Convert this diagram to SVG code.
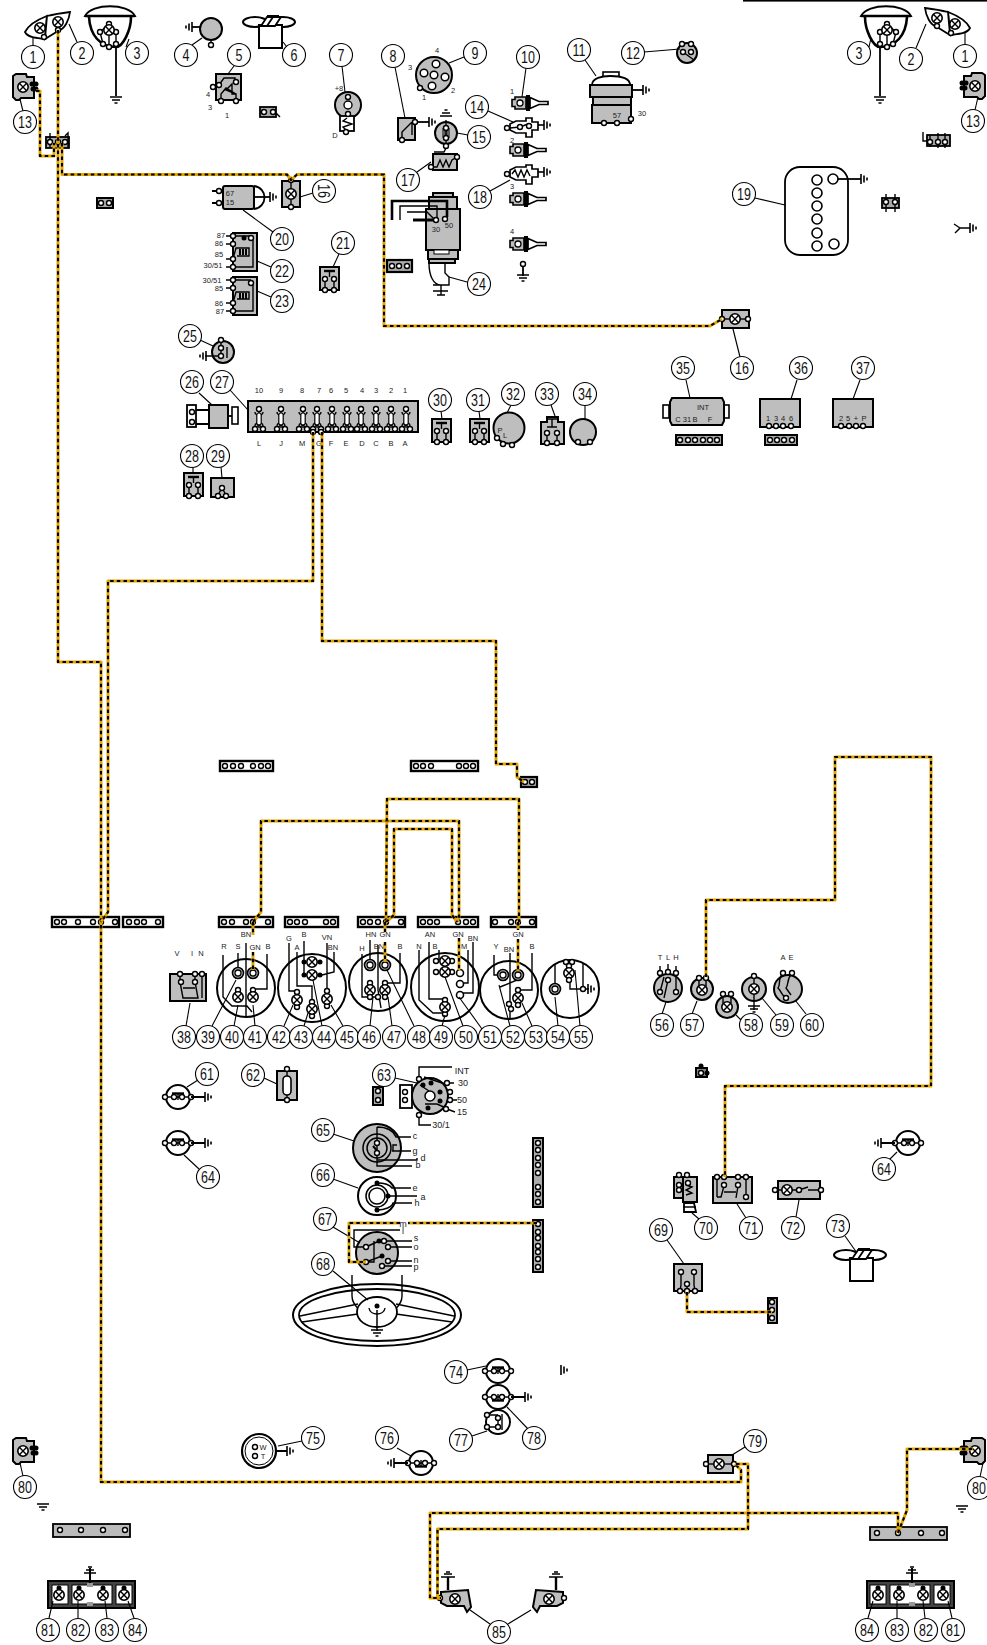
<svg xmlns="http://www.w3.org/2000/svg" width="987" height="1645" viewBox="0 0 987 1645">
<style>
text{font-family:"Liberation Sans Narrow","Liberation Sans",Arial,sans-serif}
.b{r:11.5px;fill:#fff;stroke:#000;stroke-width:1.1}
.bt{font-size:16px;text-anchor:middle;fill:#111}
.l{font-size:7.5px;text-anchor:middle;fill:#222}
.ld{fill:none;stroke:#000;stroke-width:1.1}
.g{fill:#bebebe;stroke:#000;stroke-width:2}
.w{fill:#fff;stroke:#000;stroke-width:1.6}
.n{fill:none;stroke:#000;stroke-width:1.4}
.h{fill:none;stroke:#000;stroke-width:2.6}
.k{fill:#000;stroke:none}
.t{r:2.5px;fill:#fff;stroke:#000;stroke-width:1.4}
.d{r:2.5px;fill:#000}
.bar{fill:#fff;stroke:#000;stroke-width:2.4}
.wy{fill:none;stroke:#e3a400;stroke-width:3;stroke-linejoin:round}
.wk{fill:none;stroke:#000;stroke-width:2.1;stroke-dasharray:3.5 3.2}
</style>
<defs>
<g id="L"><circle r="5.2" fill="#fff" stroke="#000" stroke-width="1.6"/><path d="M-3.4-3.4L3.4 3.4M3.4-3.4L-3.4 3.4" stroke="#000" stroke-width="1.4"/></g>
<g id="D"><circle r="5.5" fill="#bebebe" stroke="#000" stroke-width="1.6"/><circle r="3" fill="#fff" stroke="#000" stroke-width="1.3"/></g>
<path id="gR" d="M0-5V5M3-3.5V3.5M6-1.5V1.5" fill="none" stroke="#000" stroke-width="1.6"/>
<path id="gL" d="M0-5V5M-3-3.5V3.5M-6-1.5V1.5" fill="none" stroke="#000" stroke-width="1.6"/>
<path id="gD" d="M-6 0H6M-4 3H4M-1.5 6H1.5" fill="none" stroke="#000" stroke-width="1.5"/>
<path id="gU" d="M-6 0H6M-4-3H4M-1.5-6H1.5" fill="none" stroke="#000" stroke-width="1.5"/>
<g id="plug"><path d="M0-3.5H3V-6H14V6H3V3.5H0Z" fill="#bebebe" stroke="#000" stroke-width="1.6"/><circle cx="8" r="3" fill="#fff" stroke="#000" stroke-width="1.3"/><rect x="14" y="-8" width="4" height="16" fill="#000"/><path d="M18-5.5L27-1.5H36V1.5H27L18 5.5Z" fill="#fff" stroke="#000" stroke-width="1.7"/></g>
<g id="rel"><rect width="19" height="23" class="g"/><path d="M4 4H15" stroke="#000" stroke-width="2.4"/><path d="M9.5 4V10M5 11L5 22M14 11V22" class="n"/><circle class="t" cx="5" cy="12"/><circle class="t" cx="14" cy="12"/><circle class="t" cx="5" cy="23"/><circle class="t" cx="14" cy="23"/></g>
<g id="sw"><circle r="12" fill="#fff" stroke="#000" stroke-width="2"/><path d="M-6-3.5H6" stroke="#000" stroke-width="2.4"/><path d="M0-3.5V3M-13 0H13" class="n"/><circle class="t" cx="-13" cy="0"/><circle class="t" cx="13" cy="0"/><circle class="t" cx="-4" cy="0"/><circle class="t" cx="4" cy="0"/></g>
<g id="swf"><circle r="12" fill="#fff" stroke="#000" stroke-width="2"/><path d="M-6 3.5H6" stroke="#000" stroke-width="2.4"/><path d="M0 3.5V-3M-13 0H13" class="n"/><circle class="t" cx="-13" cy="0"/><circle class="t" cx="13" cy="0"/><circle class="t" cx="-4" cy="0"/><circle class="t" cx="4" cy="0"/></g>
<g id="fuse"><path d="M0-9V9" class="n"/><path d="M-4-7C-4-3-1-5-1-3M4-7C4-3 1-5 1-3M-4 7C-4 3-1 5-1 3M4 7C4 3 1 5 1 3" class="n"/><rect x="-2.2" y="-6" width="4.4" height="12" rx="2" fill="#fff" stroke="#000" stroke-width="1.2"/><path d="M-4 9L0 6L4 9" class="n"/><circle class="t" cx="0" cy="-10"/><circle class="t" cx="-4" cy="10"/><circle class="t" cx="4" cy="10"/></g>
<g id="lamps"><path d="M25 32C30 22 42 18 47 16L45 39C38 38 28 38 25 32Z" fill="#fff" stroke="#000" stroke-width="1.8"/><path d="M47 16C55 14 62 13 70 12C69 20 65 29 58 31L45 39Z" fill="#fff" stroke="#000" stroke-width="1.8"/><use href="#L" x="40" y="28"/><use href="#L" x="58" y="22"/><circle class="t" cx="44" cy="37"/><circle class="t" cx="58" cy="30"/></g>
<g id="head"><path d="M85 16C92 3 128 3 135 16Z" fill="#fff" stroke="#000" stroke-width="1.8"/><path d="M85 16H135" stroke="#000" stroke-width="2.4"/><path d="M89 17C90 35 100 47 116 47" class="h" stroke-width="2"/><path d="M131 17C131 30 123 47 116 47" class="h" stroke-width="2"/><path d="M109 24L100 32L103 44M109 24L116 32L116 44M109 30V47" class="n"/><circle class="t" cx="109" cy="24"/><circle class="t" cx="100" cy="32"/><circle class="t" cx="116" cy="32"/><circle class="t" cx="103" cy="44"/><circle class="t" cx="109" cy="47"/><circle class="t" cx="116" cy="44"/><use href="#L" x="109" y="30"/><path d="M116 46V96" stroke="#000" stroke-width="1.8"/><use href="#gD" x="116" y="97"/></g>
<g id="side"><path d="M13 76L16 74H26L27 77H34V98H21L19 100H16L13 97Z" class="g"/><use href="#L" x="23" y="87"/><circle class="d" cx="32" cy="84"/><circle class="d" cx="33" cy="89"/><circle class="d" cx="36" cy="84"/><circle class="d" cx="36" cy="89"/></g>
<g id="fan"><ellipse cx="12" cy="5" rx="12" ry="5" fill="#fff" stroke="#000" stroke-width="2"/><ellipse cx="40" cy="5" rx="12" ry="5" fill="#fff" stroke="#000" stroke-width="2"/><rect x="16" y="8" width="23" height="23" fill="#fff" stroke="#000" stroke-width="2"/><path d="M18 9L24 0H38L32 9ZM24 9L30 0" fill="#fff" stroke="#000" stroke-width="1.8"/><path d="M24-1H36" stroke="#000" stroke-width="2"/></g>
<g id="taillight"><rect x="48" y="1581" width="87" height="27" fill="#444" stroke="#000" stroke-width="2"/><rect x="52" y="1585" width="16" height="19" fill="#fff" stroke="#000" stroke-width="1"/><rect x="72" y="1585" width="40" height="19" fill="#fff" stroke="#000" stroke-width="1"/><rect x="116" y="1585" width="16" height="19" fill="#fff" stroke="#000" stroke-width="1"/><rect x="87" y="1583" width="6" height="4" fill="#999"/><rect x="87" y="1602" width="6" height="4" fill="#999"/><circle class="d" cx="59" cy="1588"/><circle class="d" cx="79" cy="1588"/><circle class="d" cx="103" cy="1588"/><circle class="d" cx="124" cy="1588"/><use href="#L" x="59" y="1595"/><use href="#L" x="79" y="1595"/><use href="#L" x="103" y="1595"/><use href="#L" x="124" y="1595"/><path d="M90 1568V1583" stroke="#000" stroke-width="2"/><path d="M84 1573H96M86 1570H94M88 1567H92" stroke="#000" stroke-width="1.5"/></g>
<g id="fog"><path d="M441 1592L468 1590L471 1607L467 1612L464 1606H447L441 1603Z" class="g"/><use href="#L" x="455" y="1599"/><circle class="t" cx="440" cy="1598"/><path d="M448 1590V1577" stroke="#000" stroke-width="2.4"/><path d="M441 1577H455M444 1574H452M446 1572H450" stroke="#000" stroke-width="1.5"/></g>
</defs>
<rect width="987" height="1645" fill="#fff"/>
<rect x="743" y="0" width="244" height="1.6" fill="#000"/>

<g id="lamps-left"><use href="#lamps"/><use href="#head"/>
<path class="ld" d="M33 45V38M77 42L69 24M126 47L129 39"/>
<circle class="b" cx="33" cy="57"/><text class="bt" transform="translate(33 63) scale(.78 1)">1</text>
<circle class="b" cx="82" cy="53"/><text class="bt" transform="translate(82 59) scale(.78 1)">2</text>
<circle class="b" cx="137" cy="53"/><text class="bt" transform="translate(137 59) scale(.78 1)">3</text></g>
<g id="lamps-right"><use href="#lamps" transform="translate(995 -4) scale(-1 1)"/><use href="#head" transform="translate(996 0) scale(-1 1)"/>
<path class="ld" d="M965 45V33M916 48L926 24M869 47L871 38"/>
<circle class="b" cx="965" cy="56"/><text class="bt" transform="translate(965 62) scale(.78 1)">1</text>
<circle class="b" cx="911" cy="59"/><text class="bt" transform="translate(911 65) scale(.78 1)">2</text>
<circle class="b" cx="859" cy="53"/><text class="bt" transform="translate(859 59) scale(.78 1)">3</text></g>
<g id="n13"><use href="#side"/><path class="ld" d="M20 99L23 111"/><circle class="b" cx="25" cy="122"/><text class="bt" transform="translate(25 128) scale(.78 1)">13</text></g>
<g id="n13r"><use href="#side" transform="translate(998 -1) scale(-1 1)"/><path class="ld" d="M978 97L975 110"/><circle class="b" cx="973" cy="121"/><text class="bt" transform="translate(973 127) scale(.78 1)">13</text></g>
<g id="n4"><circle cx="211" cy="29" r="11" class="g"/><circle class="t" cx="211" cy="45"/><path d="M211 40V43" class="n"/><path d="M200 27H192" stroke="#000" stroke-width="1.8"/><use href="#gL" x="192" y="27"/><path class="ld" d="M192 45L202 38"/><circle class="b" cx="186" cy="55"/><text class="bt" transform="translate(186 61) scale(.78 1)">4</text></g>
<g id="n5"><rect x="216" y="74" width="25" height="26" class="g"/><path d="M219 85L224 78H235V83M221 101V94L226 88L236 94L226 90L232 84V94H236V101" class="n"/><circle class="t" cx="213" cy="87"/><circle class="t" cx="219" cy="85"/><circle class="t" cx="236" cy="82"/><circle class="t" cx="221" cy="101"/><circle class="t" cx="236" cy="101"/><text class="l" x="208" y="97">4</text><text class="l" x="210" y="110">3</text><text class="l" x="227" y="118">1</text><path class="ld" d="M234 66L228 74"/><circle class="b" cx="239" cy="55"/><text class="bt" transform="translate(239 61) scale(.78 1)">5</text></g>
<g id="c1"><rect x="260" y="107" width="16" height="10" fill="#aaa" stroke="#000" stroke-width="1.8"/><circle class="t" cx="264" cy="112"/><circle class="t" cx="273" cy="112"/><path d="M276 113L280 117" class="n"/></g>
<g id="n6"><use href="#fan" x="243" y="17"/><path class="ld" d="M283 42L287 47"/><circle class="b" cx="294" cy="55"/><text class="bt" transform="translate(294 61) scale(.78 1)">6</text></g>
<g id="n7"><circle cx="348" cy="105" r="13" class="g"/><rect x="340" y="116" width="14" height="15" fill="#fff" stroke="#000" stroke-width="1.8"/><path d="M347 118L343 121L352 124L343 127L347 131" class="n"/><circle cx="348" cy="105" r="4" fill="#fff" stroke="#000" stroke-width="1.4"/><circle class="t" cx="348" cy="97"/><circle class="t" cx="348" cy="114"/><circle class="t" cx="346" cy="132"/><text class="l" x="339" y="91">+8</text><text class="l" x="335" y="138">D</text><path class="ld" d="M342 66L345 92"/><circle class="b" cx="341" cy="55"/><text class="bt" transform="translate(341 61) scale(.78 1)">7</text></g>
<g id="n8"><rect x="398" y="118" width="17" height="22" class="g"/><path d="M402 139V132L412 122M412 122V135" class="n"/><path d="M415 122H429" stroke="#000" stroke-width="1.8"/><use href="#gR" x="429" y="122"/><circle class="t" cx="415" cy="122"/><circle class="t" cx="402" cy="140"/><path class="ld" d="M395 67L405 118"/><circle class="b" cx="393" cy="56"/><text class="bt" transform="translate(393 62) scale(.78 1)">8</text></g>
<g id="n9"><circle cx="434" cy="75" r="18" class="g"/><circle cx="436" cy="64" r="3.8" fill="#fff" stroke="#000" stroke-width="1.5"/><circle cx="424" cy="73" r="3.8" fill="#fff" stroke="#000" stroke-width="1.5"/><circle cx="434" cy="75" r="3.8" fill="#fff" stroke="#000" stroke-width="1.5"/><circle cx="445" cy="77" r="3.8" fill="#fff" stroke="#000" stroke-width="1.5"/><circle cx="432" cy="86" r="3.8" fill="#fff" stroke="#000" stroke-width="1.5"/><circle class="t" cx="420" cy="88"/><text class="l" x="437" y="53">4</text><text class="l" x="410" y="70">3</text><text class="l" x="453" y="93">2</text><text class="l" x="424" y="100">1</text><path class="ld" d="M464 57L449 63"/><circle class="b" cx="475" cy="53"/><text class="bt" transform="translate(475 59) scale(.78 1)">9</text></g>
<g id="n10"><use href="#plug" x="512" y="103"/><use href="#plug" x="510" y="150"/><use href="#plug" x="510" y="199"/><use href="#plug" x="510" y="244"/><circle class="t" cx="523" cy="264"/><path d="M523 267V276" stroke="#000" stroke-width="1.8"/><use href="#gD" x="523" y="275"/><text class="l" x="512" y="94">1</text><text class="l" x="512" y="143">2</text><text class="l" x="512" y="189">3</text><text class="l" x="512" y="234">4</text><path class="ld" d="M526 68L522 97"/><circle class="b" cx="528" cy="57"/><text class="bt" transform="translate(528 63) scale(.78 1)">10</text></g>
<g id="n14"><path d="M510 124L516 121H526V118H532V122H538V130H532V137H526V133H516L510 130Z" fill="#fff" stroke="#000" stroke-width="1.7"/><path d="M510 128L520 127L528 124" class="n"/><circle class="t" cx="507" cy="128"/><circle class="t" cx="520" cy="127"/><circle class="t" cx="529" cy="126"/><path d="M538 125H544" stroke="#000" stroke-width="1.6"/><use href="#gR" x="544" y="125"/><path class="ld" d="M488 111L513 122"/><circle class="b" cx="477" cy="107"/><text class="bt" transform="translate(477 113) scale(.78 1)">14</text></g>
<g id="n18"><path d="M510 170L516 167H526V165H532V169H538V177H532V184H526V180H516L510 177Z" fill="#fff" stroke="#000" stroke-width="1.7"/><path d="M512 174L515 170L518 177L521 170L524 177L527 170L530 176" class="n"/><circle class="t" cx="507" cy="174"/><path d="M538 172H544" stroke="#000" stroke-width="1.6"/><use href="#gR" x="544" y="172"/><path class="ld" d="M490 191L510 180"/><circle class="b" cx="480" cy="197"/><text class="bt" transform="translate(480 203) scale(.78 1)">18</text></g>
<g id="n15"><circle cx="446" cy="133" r="11" class="g"/><path d="M446 120V146" class="n"/><rect x="442" y="128" width="8" height="10" class="k" opacity=".5"/><circle class="t" cx="446" cy="128"/><circle class="t" cx="446" cy="138"/><circle class="t" cx="446" cy="146"/><use href="#gU" x="446" y="116"/><path class="ld" d="M468 135L457 133"/><circle class="b" cx="479" cy="137"/><text class="bt" transform="translate(479 143) scale(.78 1)">15</text></g>
<g id="n17"><rect x="433" y="154" width="24" height="16" class="g"/><path d="M431 167L437 167L440 160L443 167L446 160L449 167L452 160L457 157M434 152H444L446 148" class="n"/><circle class="t" cx="431" cy="167"/><circle class="t" cx="457" cy="157"/><path class="ld" d="M417 172L431 162"/><circle class="b" cx="408" cy="180"/><text class="bt" transform="translate(408 186) scale(.78 1)">17</text></g>
<g id="n11"><rect x="603" y="72" width="16" height="5" fill="#fff" stroke="#000" stroke-width="1.6"/><path d="M592 85C592 78 602 76 610 76C622 76 630 78 630 85Z" fill="#fff" stroke="#000" stroke-width="1.8"/><rect x="590" y="85" width="42" height="12" class="g"/><rect x="593" y="97" width="38" height="8" class="g"/><rect x="592" y="105" width="39" height="18" class="g"/><circle class="t" cx="604" cy="123"/><circle class="t" cx="617" cy="123"/><circle class="t" cx="631" cy="119"/><path d="M632 90H643" stroke="#000" stroke-width="1.8"/><use href="#gR" x="643" y="90"/><text class="l" x="617" y="118">57</text><text class="l" x="642" y="116">30</text><path class="ld" d="M585 60L596 76"/><circle class="b" cx="579" cy="50"/><text class="bt" transform="translate(579 56) scale(.78 1)">11</text></g>
<g id="n12"><circle cx="687" cy="53" r="10" class="g"/><path d="M683 52L694 60" class="n"/><circle class="t" cx="682" cy="44"/><circle class="t" cx="691" cy="44"/><circle class="t" cx="683" cy="52"/><circle class="t" cx="691" cy="52"/><path class="ld" d="M644 52L680 49"/><circle class="b" cx="633" cy="53"/><text class="bt" transform="translate(633 59) scale(.78 1)">12</text></g>
<g id="n24"><rect x="433" y="193" width="20" height="5" class="g"/><rect x="429" y="197" width="28" height="12" class="g"/><rect x="426" y="209" width="34" height="41" class="g"/><rect x="428" y="250" width="30" height="9" class="g"/><rect x="434" y="250" width="15" height="4" fill="#fff" stroke="#000"/><rect x="429" y="259" width="26" height="4" class="g"/><path d="M392 220V201H447V217" class="h" stroke-width="3"/><path d="M400 220V206H437V218M407 212H427L435 220" class="n"/><path d="M413 220H435" stroke="#000" stroke-width="3"/><circle class="t" cx="436" cy="220"/><circle class="t" cx="445" cy="219"/><text class="l" x="436" y="232">30</text><text class="l" x="449" y="228">50</text><path d="M429 263C429 275 433 285 441 285M445 263V273L449 277V285H433M441 285V295" class="n"/><path d="M433 291H448M437 295H445" stroke="#000" stroke-width="1.5"/><path class="ld" d="M467 282L449 277"/><circle class="b" cx="479" cy="284"/><text class="bt" transform="translate(479 290) scale(.78 1)">24</text></g>
<g id="c2"><rect x="387" y="260" width="25" height="12" fill="#aaa" stroke="#000" stroke-width="2.2"/><circle class="t" cx="392" cy="266"/><circle class="t" cx="399" cy="266"/><circle class="t" cx="407" cy="266"/></g>
<g id="n16"><rect x="282" y="181" width="18" height="26" class="g"/><path d="M291 181V207" class="n"/><use href="#L" x="291" y="194"/><circle class="t" cx="291" cy="180"/><circle class="t" cx="291" cy="207"/><path class="ld" d="M313 193L300 197"/><circle class="b" cx="324" cy="191"/><text class="bt" transform="translate(318 191) rotate(90) scale(.78 1)">16</text></g>
<g id="n20"><path d="M254 186C268 188 268 207 254 209" fill="#fff" stroke="#000" stroke-width="1.8"/><rect x="223" y="186" width="31" height="23" rx="2" class="g"/><path d="M255 197H270" stroke="#000" stroke-width="1.8"/><use href="#gR" x="270" y="197"/><path d="M212 191H223M212 203H223" stroke="#000" stroke-width="1.8"/><circle class="t" cx="219" cy="191"/><circle class="t" cx="219" cy="203"/><text class="l" x="230" y="196">67</text><text class="l" x="230" y="205">15</text><path class="ld" d="M273 232L243 210"/><circle class="b" cx="282" cy="239"/><text class="bt" transform="translate(282 245) scale(.78 1)">20</text></g>
<g id="n22"><rect x="233" y="233" width="24" height="38" class="g"/><path d="M226 236H251M226 244H236M226 259H233L236 248H249V256H237M226 267H253V240" class="n" stroke-width="1.8"/><circle class="d" cx="244" cy="238"/><circle class="t" cx="233" cy="236"/><circle class="t" cx="233" cy="244"/><circle class="t" cx="233" cy="259"/><circle class="t" cx="233" cy="267"/><circle class="t" cx="251" cy="238"/><path d="M240 249V255M243 249V255M246 249V255" stroke="#000" stroke-width="2"/><text class="l" x="221" y="238">87</text><text class="l" x="219" y="246">86</text><text class="l" x="219" y="257">85</text><text class="l" x="213" y="268">30/51</text><path class="ld" d="M271 267L257 261"/><circle class="b" cx="282" cy="271"/><text class="bt" transform="translate(282 277) scale(.78 1)">22</text></g>
<g id="n23"><rect x="233" y="277" width="24" height="38" class="g"/><path d="M226 280H251M226 288H236M226 303H233L236 292H249V299H237M226 311H253V285" class="n" stroke-width="1.8"/><circle class="t" cx="233" cy="280"/><circle class="t" cx="233" cy="288"/><circle class="t" cx="233" cy="303"/><circle class="t" cx="233" cy="311"/><circle class="t" cx="251" cy="283"/><path d="M240 293V299M243 293V299M246 293V299" stroke="#000" stroke-width="2"/><text class="l" x="212" y="283">30/51</text><text class="l" x="219" y="291">85</text><text class="l" x="219" y="306">86</text><text class="l" x="220" y="314">87</text><path class="ld" d="M271 297L257 291"/><circle class="b" cx="282" cy="301"/><text class="bt" transform="translate(282 307) scale(.78 1)">23</text></g>
<g id="n21"><use href="#rel" x="320" y="267"/><path class="ld" d="M339 254L333 267"/><circle class="b" cx="343" cy="243"/><text class="bt" transform="translate(343 249) scale(.78 1)">21</text></g>
<g id="c3"><rect x="97" y="198" width="16" height="10" fill="#aaa" stroke="#000" stroke-width="2"/><circle class="t" cx="101" cy="203"/><circle class="t" cx="109" cy="203"/></g>
<g id="c4"><rect x="46" y="137" width="23" height="11" fill="#aaa" stroke="#000" stroke-width="1.8"/><path d="M50 133V148M58 134V148M65 136L68 133V148" class="n"/><circle class="t" cx="50" cy="142"/><circle class="t" cx="58" cy="142"/><circle class="t" cx="65" cy="142"/></g>
<g id="c5"><rect x="927" y="135" width="23" height="11" fill="#aaa" stroke="#000" stroke-width="1.8"/><path d="M923 132V141H930M930 135V147M938 133V148M945 133V148" class="n"/><circle class="t" cx="930" cy="142"/><circle class="t" cx="938" cy="142"/><circle class="t" cx="945" cy="142"/></g>
<g id="c6"><rect x="882" y="198" width="17" height="10" fill="#aaa" stroke="#000" stroke-width="1.8"/><path d="M886 194V212M895 194V212" class="n"/><circle class="t" cx="886" cy="202"/><circle class="t" cx="895" cy="202"/></g>
<g id="g1"><path d="M954 224L960 228L955 233M960 228H970" class="n"/><use href="#gR" x="970" y="228"/></g>
<g id="n19"><rect x="785" y="167" width="63" height="88" rx="15" fill="#fff" stroke="#000" stroke-width="1.8"/><circle cx="817" cy="180" r="5" class="w"/><circle cx="817" cy="193" r="5" class="w"/><circle cx="817" cy="206" r="5" class="w"/><circle cx="817" cy="219" r="5" class="w"/><circle cx="817" cy="233" r="5" class="w"/><circle cx="817" cy="246" r="5" class="w"/><circle cx="833" cy="179" r="5" class="w"/><circle cx="834" cy="244" r="5" class="w"/><path d="M838 179H861" stroke="#000" stroke-width="1.8"/><use href="#gR" x="861" y="179"/><path class="ld" d="M755 198L785 205"/><circle class="b" cx="744" cy="194"/><text class="bt" transform="translate(744 200) scale(.78 1)">19</text></g>
<g id="n16r"><rect x="722" y="310" width="27" height="18" class="g"/><path d="M722 319H748" class="n"/><use href="#L" x="735" y="319"/><circle class="t" cx="722" cy="319"/><circle class="t" cx="748" cy="319"/><path class="ld" d="M733 329L740 357"/><circle class="b" cx="742" cy="368"/><text class="bt" transform="translate(742 374) scale(.78 1)">16</text></g>
<g id="n35"><rect x="663" y="405" width="6" height="13" fill="#fff" stroke="#000" stroke-width="1.6"/><rect x="723" y="405" width="6" height="13" fill="#fff" stroke="#000" stroke-width="1.6"/><path d="M672 398H722L724 402V421L722 425H672L670 421V402Z" class="g"/><text class="l" x="703" y="410">INT</text><text class="l" x="678" y="422">C</text><text class="l" x="687" y="422">31</text><text class="l" x="695" y="422">B</text><text class="l" x="710" y="422">F</text><path class="ld" d="M686 380L690 398"/><circle class="b" cx="683" cy="368"/><text class="bt" transform="translate(683 374) scale(.78 1)">35</text></g>
<g id="c7"><rect x="676" y="435" width="46" height="10" fill="#aaa" stroke="#000" stroke-width="2"/><circle class="t" cx="680" cy="440"/><circle class="t" cx="688" cy="440"/><circle class="t" cx="695" cy="440"/><circle class="t" cx="703" cy="440"/><circle class="t" cx="710" cy="440"/><circle class="t" cx="717" cy="440"/></g>
<g id="n36"><rect x="760" y="399" width="40" height="28" class="g"/><circle class="t" cx="769" cy="426"/><circle class="t" cx="776" cy="426"/><circle class="t" cx="783" cy="426"/><circle class="t" cx="791" cy="426"/><text class="l" x="768" y="421">1</text><text class="l" x="776" y="421">3</text><text class="l" x="783" y="421">4</text><text class="l" x="791" y="421">6</text><path class="ld" d="M797 380L791 399"/><circle class="b" cx="801" cy="368"/><text class="bt" transform="translate(801 374) scale(.78 1)">36</text></g>
<g id="c8"><rect x="765" y="435" width="32" height="10" fill="#aaa" stroke="#000" stroke-width="2"/><circle class="t" cx="770" cy="440"/><circle class="t" cx="777" cy="440"/><circle class="t" cx="784" cy="440"/><circle class="t" cx="792" cy="440"/></g>
<g id="n37"><rect x="833" y="399" width="40" height="28" class="g"/><circle class="t" cx="841" cy="426"/><circle class="t" cx="849" cy="426"/><circle class="t" cx="856" cy="426"/><circle class="t" cx="863" cy="426"/><text class="l" x="841" y="421">2</text><text class="l" x="848" y="421">5</text><text class="l" x="856" y="421">+</text><text class="l" x="864" y="421">P</text><path class="ld" d="M860 380L853 399"/><circle class="b" cx="863" cy="368"/><text class="bt" transform="translate(863 374) scale(.78 1)">37</text></g>
<g id="n25"><circle cx="223" cy="352" r="11" class="g"/><path d="M221 340V356M205 356H221M227 347V358" class="n" stroke-width="1.8"/><circle class="t" cx="221" cy="340"/><circle class="t" cx="221" cy="348"/><circle class="t" cx="221" cy="356"/><use href="#gL" x="206" y="356"/><path class="ld" d="M200 340L213 346"/><circle class="b" cx="190" cy="336"/><text class="bt" transform="translate(190 342) scale(.78 1)">25</text></g>
<g id="n26"><rect x="187" y="405" width="9" height="22" fill="#fff" stroke="#000" stroke-width="1.8"/><path d="M196 410H209M196 424H209" stroke="#000" stroke-width="1.8"/><rect x="209" y="405" width="19" height="23" class="g"/><rect x="232" y="407" width="6" height="17" fill="#fff" stroke="#000" stroke-width="1.6"/><path d="M228 416H232" stroke="#000" stroke-width="1.8"/><circle class="t" cx="192" cy="412"/><circle class="t" cx="192" cy="422"/><path class="ld" d="M199 393L212 405"/><circle class="b" cx="192" cy="382"/><text class="bt" transform="translate(192 388) scale(.78 1)">26</text></g>
<g id="n27"><rect x="248" y="401" width="170" height="31" class="g"/><use href="#fuse" x="259" y="419"/><use href="#fuse" x="281" y="419"/><use href="#fuse" x="303" y="419"/><use href="#fuse" x="317" y="419"/><use href="#fuse" x="332" y="419"/><use href="#fuse" x="347" y="419"/><use href="#fuse" x="361" y="419"/><use href="#fuse" x="376" y="419"/><use href="#fuse" x="391" y="419"/><use href="#fuse" x="406" y="419"/><circle class="t" cx="313" cy="432"/><circle class="t" cx="321" cy="432"/><text class="l" x="259" y="393">10</text><text class="l" x="281" y="393">9</text><text class="l" x="302" y="393">8</text><text class="l" x="319" y="393">7</text><text class="l" x="331" y="393">6</text><text class="l" x="346" y="393">5</text><text class="l" x="362" y="393">4</text><text class="l" x="376" y="393">3</text><text class="l" x="391" y="393">2</text><text class="l" x="405" y="393">1</text><text class="l" x="259" y="446">L</text><text class="l" x="281" y="446">J</text><text class="l" x="302" y="446">M</text><text class="l" x="319" y="446">G</text><text class="l" x="331" y="446">F</text><text class="l" x="346" y="446">E</text><text class="l" x="362" y="446">D</text><text class="l" x="376" y="446">C</text><text class="l" x="391" y="446">B</text><text class="l" x="405" y="446">A</text><path class="ld" d="M230 390L248 410"/><circle class="b" cx="222" cy="382"/><text class="bt" transform="translate(222 388) scale(.78 1)">27</text></g>
<g id="n28"><use href="#rel" x="184" y="473"/><path class="ld" d="M193 467V473"/><circle class="b" cx="192" cy="456"/><text class="bt" transform="translate(192 462) scale(.78 1)">28</text></g>
<g id="n29"><rect x="211" y="478" width="23" height="19" class="g"/><path d="M218 495L222 488L226 495" class="n"/><circle class="t" cx="222" cy="488"/><circle class="t" cx="218" cy="496"/><circle class="t" cx="226" cy="496"/><path class="ld" d="M221 467L222 478"/><circle class="b" cx="218" cy="456"/><text class="bt" transform="translate(218 462) scale(.78 1)">29</text></g>
<g id="n30"><use href="#rel" x="432" y="419"/><path class="ld" d="M441 411L442 419"/><circle class="b" cx="440" cy="400"/><text class="bt" transform="translate(440 406) scale(.78 1)">30</text></g>
<g id="n31"><use href="#rel" x="470" y="419"/><path class="ld" d="M479 411L480 419"/><circle class="b" cx="478" cy="400"/><text class="bt" transform="translate(478 406) scale(.78 1)">31</text></g>
<g id="n32"><circle cx="509" cy="428" r="15.5" class="g"/><circle class="t" cx="497" cy="438"/><circle class="t" cx="503" cy="444"/><circle class="t" cx="512" cy="445"/><text class="l" x="500" y="433">P</text><text class="l" x="505" y="438">L</text><path class="ld" d="M511 405L507 413"/><circle class="b" cx="513" cy="394"/><text class="bt" transform="translate(513 400) scale(.78 1)">32</text></g>
<g id="n33"><path d="M541 444V422H547V417H558V422H564V444Z" class="g"/><path d="M547 419H558M552 419V427M547 433V443M557 433V443M547 427H557" class="n"/><circle class="t" cx="547" cy="433"/><circle class="t" cx="557" cy="433"/><circle class="t" cx="547" cy="443"/><circle class="t" cx="557" cy="443"/><path class="ld" d="M551 405L555 416"/><circle class="b" cx="547" cy="394"/><text class="bt" transform="translate(547 400) scale(.78 1)">33</text></g>
<g id="n34"><circle cx="583" cy="432" r="13" class="g"/><circle class="t" cx="578" cy="442"/><circle class="t" cx="590" cy="442"/><path class="ld" d="M585 405V419"/><circle class="b" cx="585" cy="394"/><text class="bt" transform="translate(585 400) scale(.78 1)">34</text></g>

<g id="bars">
<rect x="220" y="761" width="53" height="10" class="bar"/><circle class="t" cx="225" cy="766"/><circle class="t" cx="233" cy="766"/><circle class="t" cx="241" cy="766"/><circle class="t" cx="253" cy="766"/><circle class="t" cx="261" cy="766"/><circle class="t" cx="268" cy="766"/>
<rect x="411" y="761" width="67" height="10" class="bar"/><circle class="t" cx="416" cy="766"/><circle class="t" cx="423" cy="766"/><circle class="t" cx="431" cy="766"/><circle class="t" cx="459" cy="766"/><circle class="t" cx="466" cy="766"/><circle class="t" cx="473" cy="766"/>
<rect x="521" y="777" width="16" height="10" fill="#aaa" stroke="#000" stroke-width="2.2"/><circle class="t" cx="525" cy="782"/><circle class="t" cx="532" cy="782"/>
<rect x="52" y="917" width="67" height="10" class="bar"/><circle class="t" cx="57" cy="922"/><circle class="t" cx="64" cy="922"/><circle class="t" cx="78" cy="922"/><circle class="t" cx="93" cy="922"/><circle class="t" cx="101" cy="922"/><circle class="t" cx="115" cy="922"/>
<rect x="123" y="917" width="40" height="10" class="bar"/><circle class="t" cx="129" cy="922"/><circle class="t" cx="137" cy="922"/><circle class="t" cx="144" cy="922"/><circle class="t" cx="158" cy="922"/>
<rect x="219" y="917" width="54" height="10" class="bar"/><circle class="t" cx="224" cy="922"/><circle class="t" cx="232" cy="922"/><circle class="t" cx="246" cy="922"/><circle class="t" cx="253" cy="922"/><circle class="t" cx="268" cy="922"/>
<rect x="285" y="917" width="53" height="10" class="bar"/><circle class="t" cx="290" cy="922"/><circle class="t" cx="297" cy="922"/><circle class="t" cx="305" cy="922"/><circle class="t" cx="326" cy="922"/><circle class="t" cx="333" cy="922"/>
<rect x="358" y="917" width="47" height="10" class="bar"/><circle class="t" cx="363" cy="922"/><circle class="t" cx="370" cy="922"/><circle class="t" cx="378" cy="922"/><circle class="t" cx="386" cy="922"/><circle class="t" cx="401" cy="922"/>
<rect x="418" y="917" width="60" height="10" class="bar"/><circle class="t" cx="423" cy="922"/><circle class="t" cx="430" cy="922"/><circle class="t" cx="437" cy="922"/><circle class="t" cx="458" cy="922"/><circle class="t" cx="466" cy="922"/><circle class="t" cx="473" cy="922"/>
<rect x="491" y="917" width="45" height="10" class="bar"/><circle class="t" cx="495" cy="922"/><circle class="t" cx="511" cy="922"/><circle class="t" cx="518" cy="922"/><circle class="t" cx="532" cy="922"/>
<rect x="53" y="1524" width="77" height="13" fill="#bbb" stroke="#000" stroke-width="1.8"/><circle class="t" cx="60" cy="1530"/><circle class="t" cx="81" cy="1530"/><circle class="t" cx="103" cy="1530"/><circle class="t" cx="125" cy="1530"/>
<rect x="870" y="1527" width="77" height="13" fill="#bbb" stroke="#000" stroke-width="1.8"/><circle class="t" cx="877" cy="1533"/><circle class="t" cx="898" cy="1533"/><circle class="t" cx="921" cy="1533"/><circle class="t" cx="942" cy="1533"/>
<rect x="533" y="1138" width="10" height="69" fill="#aaa" stroke="#000" stroke-width="2"/><circle class="t" cx="538" cy="1143"/><circle class="t" cx="538" cy="1150"/><circle class="t" cx="538" cy="1158"/><circle class="t" cx="538" cy="1165"/><circle class="t" cx="538" cy="1173"/><circle class="t" cx="538" cy="1187"/><circle class="t" cx="538" cy="1194"/><circle class="t" cx="538" cy="1202"/>
<rect x="533" y="1220" width="10" height="52" fill="#aaa" stroke="#000" stroke-width="2"/><circle class="t" cx="538" cy="1224"/><circle class="t" cx="538" cy="1232"/><circle class="t" cx="538" cy="1238"/><circle class="t" cx="538" cy="1246"/><circle class="t" cx="538" cy="1252"/><circle class="t" cx="538" cy="1259"/><circle class="t" cx="538" cy="1267"/>
<rect x="768" y="1298" width="9" height="25" fill="#aaa" stroke="#000" stroke-width="2"/><circle class="t" cx="772" cy="1302"/><circle class="t" cx="772" cy="1310"/><circle class="t" cx="772" cy="1318"/>
</g>

<g id="n38"><rect x="170" y="974" width="36" height="27" class="g"/><path d="M180 974V982L183 998H198L195 982V974M183 988H195M202 974V998" class="n"/><circle class="t" cx="180" cy="974"/><circle class="t" cx="195" cy="974"/><circle class="t" cx="202" cy="974"/><circle class="t" cx="181" cy="982"/><circle class="t" cx="195" cy="982"/><text class="l" x="177" y="956">V</text><text class="l" x="192" y="956">I</text><text class="l" x="201" y="956">N</text><path class="ld" d="M186 1026L190 1003"/><circle class="b" cx="184" cy="1037"/><text class="bt" transform="translate(184 1043) scale(.78 1)">38</text></g>
<g id="n39-41"><circle cx="246" cy="988" r="29" fill="#fff" stroke="#000" stroke-width="2"/><path d="M223 955V997L232 1006H247L252 1012M246 943V1017M238 953V968M267 954V989H253" class="n" stroke-width="1.8"/><use href="#D" x="238" y="973"/><use href="#D" x="253" y="973"/><circle class="t" cx="238" cy="990"/><circle class="t" cx="253" cy="990"/><use href="#L" x="238" y="997"/><use href="#L" x="253" y="997"/><text class="l" x="246" y="937">BN</text><text class="l" x="224" y="949">R</text><text class="l" x="238" y="949">S</text><text class="l" x="255" y="950">GN</text><text class="l" x="268" y="949">B</text><path class="ld" d="M212 1026L236 980M234 1026L238 1005M255 1026L253 1005"/><circle class="b" cx="208" cy="1037"/><text class="bt" transform="translate(208 1043) scale(.78 1)">39</text><circle class="b" cx="232" cy="1037"/><text class="bt" transform="translate(232 1043) scale(.78 1)">40</text><circle class="b" cx="255" cy="1037"/><text class="bt" transform="translate(255 1043) scale(.78 1)">41</text></g>
<g id="n42-45"><circle cx="312" cy="988" r="34" fill="#fff" stroke="#000" stroke-width="2"/><path d="M289 943V991H297M297 952V986H312V1002M304 941V975M327 943V990M334 952V972L322 975" class="n" stroke-width="1.8"/><circle class="d" cx="304" cy="962"/><circle class="d" cx="320" cy="962"/><circle class="d" cx="304" cy="975"/><circle class="d" cx="320" cy="975"/><use href="#L" x="312" y="962"/><use href="#L" x="312" y="975"/><circle class="t" cx="297" cy="992"/><circle class="t" cx="297" cy="1007"/><use href="#L" x="297" y="1000"/><circle class="t" cx="312" cy="1002"/><circle class="t" cx="312" cy="1016"/><use href="#L" x="312" y="1009"/><circle class="t" cx="327" cy="991"/><circle class="t" cx="327" cy="1006"/><use href="#L" x="327" y="999"/><text class="l" x="289" y="941">G</text><text class="l" x="304" y="937">B</text><text class="l" x="327" y="940">VN</text><text class="l" x="297" y="950">A</text><text class="l" x="333" y="950">BN</text><path class="ld" d="M284 1026L293 1005M304 1026L308 1013M322 1026L313 980M343 1026L331 1005"/><circle class="b" cx="279" cy="1037"/><text class="bt" transform="translate(279 1043) scale(.78 1)">42</text><circle class="b" cx="301" cy="1037"/><text class="bt" transform="translate(301 1043) scale(.78 1)">43</text><circle class="b" cx="324" cy="1037"/><text class="bt" transform="translate(324 1043) scale(.78 1)">44</text><circle class="b" cx="347" cy="1037"/><text class="bt" transform="translate(347 1043) scale(.78 1)">45</text></g>
<g id="n46-48"><circle cx="378" cy="982" r="29" fill="#fff" stroke="#000" stroke-width="2"/><path d="M362 954V997H375M370 940V960M378 945V990L381 1008M400 953V983H383" class="n" stroke-width="1.8"/><use href="#D" x="370" y="965"/><use href="#D" x="385" y="965"/><circle class="t" cx="370" cy="983"/><circle class="t" cx="385" cy="983"/><use href="#L" x="370" y="990"/><use href="#L" x="385" y="990"/><circle class="t" cx="370" cy="997"/><circle class="t" cx="378" cy="997"/><circle class="t" cx="385" cy="997"/><text class="l" x="371" y="937">HN</text><text class="l" x="385" y="937">GN</text><text class="l" x="362" y="951">H</text><text class="l" x="379" y="949">BN</text><text class="l" x="400" y="949">B</text><path class="ld" d="M370 1026L373 997M392 1026L388 997M414 1026L387 970"/><circle class="b" cx="369" cy="1037"/><text class="bt" transform="translate(369 1043) scale(.78 1)">46</text><circle class="b" cx="394" cy="1037"/><text class="bt" transform="translate(394 1043) scale(.78 1)">47</text><circle class="b" cx="419" cy="1037"/><text class="bt" transform="translate(419 1043) scale(.78 1)">48</text></g>
<g id="n49-51"><circle cx="445" cy="987" r="34" fill="#fff" stroke="#000" stroke-width="2"/><path d="M419 950V1000L433 1013H443M429 942V999H443M439 950V960M468 950V983H460M473 942V993H460" class="n" stroke-width="1.8"/><circle class="t" cx="436" cy="961"/><circle class="t" cx="452" cy="961"/><circle class="t" cx="436" cy="972"/><circle class="t" cx="452" cy="972"/><use href="#L" x="445" y="961"/><use href="#L" x="445" y="972"/><circle cx="460" cy="973" r="3.5" class="w"/><circle cx="460" cy="984" r="3.5" class="w"/><circle cx="460" cy="995" r="3.5" class="w"/><circle class="t" cx="445" cy="1000"/><circle class="t" cx="445" cy="1014"/><use href="#L" x="445" y="1007"/><text class="l" x="430" y="937">AN</text><text class="l" x="419" y="949">N</text><text class="l" x="435" y="949">B</text><text class="l" x="458" y="937">GN</text><text class="l" x="464" y="949">M</text><text class="l" x="473" y="941">BN</text><path class="ld" d="M442 1026L445 1015M463 1026L445 977M482 1029L459 997"/><circle class="b" cx="441" cy="1037"/><text class="bt" transform="translate(441 1043) scale(.78 1)">49</text><circle class="b" cx="466" cy="1037"/><text class="bt" transform="translate(466 1043) scale(.78 1)">50</text><circle class="b" cx="490" cy="1037"/><text class="bt" transform="translate(490 1043) scale(.78 1)">51</text></g>
<g id="n52-53"><circle cx="509" cy="990" r="29" fill="#fff" stroke="#000" stroke-width="2"/><path d="M494 955V975H503M510 953V1018M532 953V990H518M500 987L517 980" class="n" stroke-width="1.8"/><use href="#D" x="503" y="975"/><use href="#D" x="518" y="975"/><circle class="t" cx="518" cy="990"/><use href="#L" x="518" y="998"/><circle class="t" cx="518" cy="1005"/><circle class="t" cx="509" cy="1004"/><circle class="t" cx="511" cy="1009"/><text class="l" x="496" y="949">Y</text><text class="l" x="509" y="952">BN</text><text class="l" x="518" y="937">GN</text><text class="l" x="532" y="949">B</text><path class="ld" d="M510 1026L499 985M532 1026L522 1003"/><circle class="b" cx="513" cy="1037"/><text class="bt" transform="translate(513 1043) scale(.78 1)">52</text><circle class="b" cx="536" cy="1037"/><text class="bt" transform="translate(536 1043) scale(.78 1)">53</text></g>
<g id="n54-55"><circle cx="570" cy="989" r="29" fill="#fff" stroke="#000" stroke-width="2"/><path d="M555 965V985M583 963V989M570 978V989H589" class="n" stroke-width="1.8"/><use href="#D" x="555" y="989"/><circle class="t" cx="566" cy="962"/><circle class="t" cx="572" cy="962"/><circle class="t" cx="569" cy="966"/><use href="#L" x="569" y="973"/><circle class="t" cx="569" cy="980"/><circle class="t" cx="583" cy="989"/><use href="#gR" x="588" y="989"/><path class="ld" d="M558 1026L555 997M580 1026L575 970"/><circle class="b" cx="558" cy="1037"/><text class="bt" transform="translate(558 1043) scale(.78 1)">54</text><circle class="b" cx="581" cy="1037"/><text class="bt" transform="translate(581 1043) scale(.78 1)">55</text></g>

<g id="n56"><circle cx="668" cy="988" r="14" class="g"/><path d="M660 973V966M668 972V964M676 973V966M660 992L664 977M668 980L664 998M676 973V992" class="n"/><circle class="t" cx="660" cy="973"/><circle class="t" cx="668" cy="972"/><circle class="t" cx="676" cy="973"/><circle class="t" cx="668" cy="980"/><circle class="t" cx="660" cy="992"/><circle class="t" cx="676" cy="992"/><text class="l" x="660" y="960">T</text><text class="l" x="668" y="960">L</text><text class="l" x="676" y="960">H</text><path class="ld" d="M662 1014L666 1002"/><circle class="b" cx="662" cy="1025"/><text class="bt" transform="translate(662 1031) scale(.78 1)">56</text></g>
<g id="n57"><circle cx="702" cy="989" r="11" class="g"/><path d="M699 978V986M706 978V986" class="n"/><use href="#L" x="702" y="990"/><circle class="t" cx="699" cy="978"/><circle class="t" cx="706" cy="978"/><path class="ld" d="M692 1014L697 1001"/><circle class="b" cx="692" cy="1025"/><text class="bt" transform="translate(692 1031) scale(.78 1)">57</text></g>
<g id="n58"><circle cx="727" cy="1007" r="11" class="g"/><path d="M723 994V1003M731 994V1003" class="n"/><use href="#L" x="727" y="1007"/><circle class="t" cx="723" cy="994"/><circle class="t" cx="731" cy="994"/><path class="ld" d="M741 1020L736 1015"/><circle class="b" cx="751" cy="1025"/><text class="bt" transform="translate(751 1031) scale(.78 1)">58</text></g>
<g id="n59"><circle cx="754" cy="989" r="12" class="g"/><path d="M754 976V1010" class="n"/><use href="#L" x="754" y="989"/><circle class="t" cx="754" cy="976"/><use href="#gD" x="754" y="1006"/><path class="ld" d="M776 1015L762 998"/><circle class="b" cx="782" cy="1025"/><text class="bt" transform="translate(782 1031) scale(.78 1)">59</text></g>
<g id="n60"><circle cx="788" cy="989" r="14" class="g"/><path d="M783 973C777 980 781 985 778 988C782 992 781 995 786 998M792 973C786 980 789 985 786 988L791 995" class="n"/><circle class="t" cx="783" cy="973"/><circle class="t" cx="792" cy="973"/><circle class="t" cx="786" cy="998"/><text class="l" x="783" y="960">A</text><text class="l" x="791" y="960">E</text><path class="ld" d="M806 1014L795 1000"/><circle class="b" cx="812" cy="1025"/><text class="bt" transform="translate(812 1031) scale(.78 1)">60</text></g>
<g id="c9"><rect x="696" y="1068" width="11" height="9" fill="#888" stroke="#000" stroke-width="2"/><circle class="t" cx="701" cy="1073"/><circle class="d" cx="701" cy="1066"/><circle class="d" cx="707" cy="1073"/></g>

<g id="n61"><use href="#sw" x="178" y="1097"/><path d="M191 1097H205" stroke="#000" stroke-width="2"/><use href="#gR" x="205" y="1097"/><path class="ld" d="M198 1080L187 1087"/><circle class="b" cx="207" cy="1074"/><text class="bt" transform="translate(207 1080) scale(.78 1)">61</text></g>
<g id="n64a"><use href="#sw" x="178" y="1143"/><path d="M191 1143H205" stroke="#000" stroke-width="2"/><use href="#gR" x="205" y="1143"/><path class="ld" d="M199 1169L184 1155"/><circle class="b" cx="208" cy="1177"/><text class="bt" transform="translate(208 1183) scale(.78 1)">64</text></g>
<g id="n62"><rect x="277" y="1071" width="20" height="29" class="g"/><path d="M287 1070V1100" class="n"/><rect x="283" y="1076" width="8" height="19" rx="4" fill="#fff" stroke="#000" stroke-width="1.6"/><circle class="t" cx="287" cy="1069"/><circle class="t" cx="287" cy="1100"/><path class="ld" d="M264 1078L277 1084"/><circle class="b" cx="253" cy="1075"/><text class="bt" transform="translate(253 1081) scale(.78 1)">62</text></g>
<g id="n63"><rect x="400" y="1085" width="12" height="23" fill="#fff" stroke="#000" stroke-width="1.8"/><circle cx="430" cy="1096" r="18" class="g"/><circle cx="430" cy="1096" r="5" fill="#fff" stroke="#000" stroke-width="1.5"/><path d="M419 1083V1067H452M424 1077L448 1085M420 1085L429 1091M425 1104H437L446 1108M419 1115V1125H431M447 1083H454M449 1100H457M447 1109L455 1112" class="n" stroke-width="1.8"/><circle class="d" cx="423" cy="1085"/><circle class="d" cx="431" cy="1083"/><circle class="d" cx="440" cy="1092"/><circle class="d" cx="440" cy="1101"/><circle class="d" cx="428" cy="1108"/><circle class="t" cx="419" cy="1079"/><circle class="t" cx="447" cy="1083"/><circle class="t" cx="450" cy="1092"/><circle class="t" cx="450" cy="1100"/><circle class="t" cx="446" cy="1109"/><circle class="t" cx="419" cy="1115"/><circle class="t" cx="405" cy="1092"/><circle class="t" cx="405" cy="1100"/><text class="l" x="462" y="1074" style="font-size:9px">INT</text><text class="l" x="463" y="1086" style="font-size:9px">30</text><text class="l" x="462" y="1103" style="font-size:9px">50</text><text class="l" x="462" y="1115" style="font-size:9px">15</text><text class="l" x="441" y="1128" style="font-size:9px">30/1</text><path class="ld" d="M395 1078L417 1083"/><circle class="b" cx="384" cy="1075"/><text class="bt" transform="translate(384 1081) scale(.78 1)">63</text></g>
<g id="c10"><rect x="373" y="1087" width="10" height="18" fill="#aaa" stroke="#000" stroke-width="2"/><circle class="t" cx="378" cy="1091"/><circle class="t" cx="378" cy="1100"/></g>
<g id="n65"><circle cx="377" cy="1148" r="24" class="g"/><circle cx="377" cy="1148" r="14" fill="none" stroke="#000" stroke-width="1.5"/><circle cx="377" cy="1148" r="10" fill="none" stroke="#000" stroke-width="1.5"/><path d="M377 1127V1166H412M377 1127C385 1127 393 1130 396 1137H411M392 1151H411M377 1160H417V1158M397 1145H393V1151" class="n" stroke-width="1.7"/><path d="M373 1146L379 1153" stroke="#000" stroke-width="2"/><circle class="t" cx="377" cy="1143"/><circle class="t" cx="377" cy="1153"/><text class="l" x="415" y="1139" style="font-size:9px">c</text><text class="l" x="415" y="1154" style="font-size:9px">g</text><text class="l" x="423" y="1161" style="font-size:9px">d</text><text class="l" x="418" y="1168" style="font-size:9px">b</text><path class="ld" d="M333 1134L354 1141"/><circle class="b" cx="323" cy="1130"/><text class="bt" transform="translate(323 1136) scale(.78 1)">65</text></g>
<g id="n66"><circle cx="377" cy="1196" r="19" fill="#fff" stroke="#000" stroke-width="2"/><circle cx="377" cy="1196" r="11" fill="none" stroke="#000" stroke-width="1.5"/><circle cx="377" cy="1196" r="8" fill="none" stroke="#000" stroke-width="1.5"/><path d="M377 1183C384 1183 390 1185 392 1188H411M388 1196H417M377 1210C385 1210 392 1207 393 1203H412" class="n" stroke-width="1.7"/><circle class="d" cx="377" cy="1183"/><circle class="d" cx="388" cy="1196"/><circle class="d" cx="377" cy="1210"/><text class="l" x="415" y="1191" style="font-size:9px">e</text><text class="l" x="423" y="1200" style="font-size:9px">a</text><text class="l" x="417" y="1206" style="font-size:9px">h</text><path class="ld" d="M333 1179L358 1188"/><circle class="b" cx="323" cy="1175"/><text class="bt" transform="translate(323 1181) scale(.78 1)">66</text></g>
<g id="n67"><circle cx="377" cy="1253" r="21" class="g"/><path d="M366 1247L354 1247V1230H400M379 1241L366 1247M374 1241V1262H366M382 1256L366 1262M384 1241H412M388 1247H412M388 1261H412M382 1266H412" class="n" stroke-width="1.7"/><circle class="d" cx="379" cy="1241"/><circle class="d" cx="382" cy="1256"/><circle class="t" cx="366" cy="1247"/><circle class="t" cx="366" cy="1262"/><circle class="t" cx="384" cy="1241"/><circle class="t" cx="388" cy="1247"/><circle class="t" cx="388" cy="1261"/><circle class="t" cx="382" cy="1266"/><text class="l" x="403" y="1227" style="font-size:9px">m</text><text class="l" x="403" y="1234" style="font-size:9px">l</text><text class="l" x="416" y="1241" style="font-size:9px">s</text><text class="l" x="416" y="1250" style="font-size:9px">o</text><text class="l" x="416" y="1263" style="font-size:9px">n</text><text class="l" x="416" y="1270" style="font-size:9px">p</text><path class="ld" d="M333 1227L360 1243"/><circle class="b" cx="325" cy="1219"/><text class="bt" transform="translate(325 1225) scale(.78 1)">67</text></g>
<g id="n68"><ellipse cx="377" cy="1315" rx="84" ry="31" fill="#fff" stroke="#000" stroke-width="2"/><ellipse cx="377" cy="1315" rx="78" ry="26" fill="#fff" stroke="#000" stroke-width="1.8"/><path d="M352 1275V1296C352 1303 356 1306 360 1311M402 1275V1296C402 1303 398 1306 394 1311M300 1316L358 1304M302 1322L358 1314M454 1316L396 1304M452 1322L396 1314" class="n" stroke-width="1.7"/><ellipse cx="377" cy="1312" rx="20" ry="15" fill="#fff" stroke="#000" stroke-width="1.8"/><path d="M369 1308C370 1316 384 1316 385 1308" class="n"/><circle class="d" cx="377" cy="1306"/><path d="M377 1310V1331" stroke="#000" stroke-width="1.5"/><use href="#gD" x="377" y="1330"/><path class="ld" d="M333 1271L368 1300"/><circle class="b" cx="323" cy="1264"/><text class="bt" transform="translate(323 1270) scale(.78 1)">68</text></g>
<g id="n70"><rect x="674" y="1177" width="9" height="21" class="g" stroke-width="1.8"/><rect x="683" y="1177" width="14" height="25" class="g" stroke-width="1.8"/><path d="M684 1203H694L696 1212H684Z" fill="#fff" stroke="#000" stroke-width="1.8"/><path d="M683 1207H696" stroke="#000" stroke-width="1.5"/><path d="M686 1185L692 1187L686 1190L692 1193L686 1195" class="n"/><circle class="t" cx="679" cy="1175"/><circle class="t" cx="687" cy="1175"/><circle class="t" cx="679" cy="1185"/><circle class="t" cx="679" cy="1190"/><circle class="t" cx="688" cy="1183"/><path class="ld" d="M699 1219L692 1213"/><circle class="b" cx="706" cy="1228"/><text class="bt" transform="translate(706 1234) scale(.78 1)">70</text></g>
<g id="n71"><rect x="713" y="1177" width="39" height="26" class="g"/><path d="M717 1178V1197M717 1197H721L724 1186M724 1192H736M738 1186L736 1198M746 1178V1197" class="n"/><circle class="t" cx="717" cy="1177"/><circle class="t" cx="724" cy="1177"/><circle class="t" cx="738" cy="1177"/><circle class="t" cx="746" cy="1177"/><circle class="t" cx="724" cy="1185"/><circle class="t" cx="738" cy="1185"/><circle class="t" cx="746" cy="1197"/><path class="ld" d="M746 1218L737 1204"/><circle class="b" cx="751" cy="1228"/><text class="bt" transform="translate(751 1234) scale(.78 1)">71</text></g>
<g id="n72"><rect x="778" y="1181" width="42" height="18" class="g"/><path d="M775 1190H799L808 1187M808 1190H821" class="n"/><use href="#L" x="787" y="1190"/><circle class="t" cx="775" cy="1190"/><circle class="t" cx="799" cy="1190"/><circle class="t" cx="821" cy="1190"/><path class="ld" d="M796 1217L799 1200"/><circle class="b" cx="793" cy="1228"/><text class="bt" transform="translate(793 1234) scale(.78 1)">72</text></g>
<g id="n73"><use href="#fan" x="834" y="1250"/><path class="ld" d="M845 1236L857 1253"/><circle class="b" cx="838" cy="1226"/><text class="bt" transform="translate(838 1232) scale(.78 1)">73</text></g>
<g id="n69"><rect x="674" y="1264" width="28" height="27" class="g"/><path d="M681 1272V1285L680 1291M694 1272V1285L695 1291M687 1284V1291" class="n"/><circle class="t" cx="681" cy="1272"/><circle class="t" cx="694" cy="1272"/><circle class="t" cx="687" cy="1284"/><circle class="t" cx="680" cy="1291"/><circle class="t" cx="687" cy="1291"/><circle class="t" cx="695" cy="1291"/><path class="ld" d="M667 1240L684 1264"/><circle class="b" cx="661" cy="1230"/><text class="bt" transform="translate(661 1236) scale(.78 1)">69</text></g>
<g id="n64b"><use href="#sw" x="908" y="1143"/><path d="M881 1143H895" stroke="#000" stroke-width="2"/><use href="#gL" x="881" y="1143"/><path class="ld" d="M889 1160L897 1152"/><circle class="b" cx="884" cy="1169"/><text class="bt" transform="translate(884 1175) scale(.78 1)">64</text></g>
<g id="n74"><use href="#sw" x="498" y="1371"/><path class="ld" d="M467 1370L486 1366"/><circle class="b" cx="456" cy="1372"/><text class="bt" transform="translate(456 1378) scale(.78 1)">74</text></g>
<g id="g2"><use href="#gR" x="561" y="1370"/></g>
<g id="n78"><use href="#swf" x="498" y="1397"/><path d="M511 1397H525" stroke="#000" stroke-width="2"/><use href="#gR" x="525" y="1397"/><path class="ld" d="M507 1407L528 1429"/><circle class="b" cx="534" cy="1438"/><text class="bt" transform="translate(534 1444) scale(.78 1)">78</text></g>
<g id="n77"><circle cx="498" cy="1422" r="12" fill="#fff" stroke="#000" stroke-width="2"/><path d="M487 1415H498M487 1427H498M498 1418V1430M502 1414V1430" class="n"/><circle class="t" cx="487" cy="1415"/><circle class="t" cx="487" cy="1427"/><circle class="t" cx="498" cy="1418"/><circle class="t" cx="498" cy="1427"/><path class="ld" d="M472 1436L487 1431"/><circle class="b" cx="461" cy="1440"/><text class="bt" transform="translate(461 1446) scale(.78 1)">77</text></g>
<g id="n75"><circle cx="259" cy="1451" r="17" fill="#fff" stroke="#000" stroke-width="2.2"/><circle cx="259" cy="1451" r="14" fill="none" stroke="#000" stroke-width="1"/><circle class="t" cx="255" cy="1447"/><circle class="t" cx="255" cy="1456"/><text class="l" x="263" y="1450">W</text><text class="l" x="263" y="1459">T</text><path d="M276 1451H287" stroke="#000" stroke-width="2"/><use href="#gR" x="287" y="1451"/><path class="ld" d="M302 1441L278 1446"/><circle class="b" cx="313" cy="1438"/><text class="bt" transform="translate(313 1444) scale(.78 1)">75</text></g>
<g id="n76"><use href="#swf" x="421" y="1463"/><path d="M394 1463H408" stroke="#000" stroke-width="2"/><use href="#gL" x="394" y="1463"/><path class="ld" d="M397 1448L411 1456"/><circle class="b" cx="387" cy="1438"/><text class="bt" transform="translate(387 1444) scale(.78 1)">76</text></g>
<g id="n79"><rect x="708" y="1455" width="25" height="18" class="g"/><path d="M706 1464H734" class="n"/><use href="#L" x="719" y="1464"/><circle class="t" cx="706" cy="1464"/><circle class="t" cx="734" cy="1464"/><path class="ld" d="M745 1447L732 1455"/><circle class="b" cx="755" cy="1441"/><text class="bt" transform="translate(755 1447) scale(.78 1)">79</text></g>
<g id="n80"><use href="#side" transform="translate(0 1364)"/><path class="ld" d="M20 1463L23 1476"/><circle class="b" cx="25" cy="1487"/><text class="bt" transform="translate(25 1493) scale(.78 1)">80</text></g>
<g id="n80r"><use href="#side" transform="translate(998 1364) scale(-1 1)"/><path class="ld" d="M983 1463L980 1477"/><circle class="b" cx="979" cy="1488"/><text class="bt" transform="translate(979 1494) scale(.78 1)">80</text></g>
<g id="g3"><use href="#gD" x="43" y="1504"/></g>
<g id="g4"><use href="#gD" x="962" y="1506"/></g>
<g id="n81-84"><use href="#taillight"/><path class="ld" d="M49 1618L53 1601M78 1618V1601M107 1618L105 1601M134 1618L128 1601"/><circle class="b" cx="48" cy="1630"/><text class="bt" transform="translate(48 1636) scale(.78 1)">81</text><circle class="b" cx="78" cy="1630"/><text class="bt" transform="translate(78 1636) scale(.78 1)">82</text><circle class="b" cx="107" cy="1630"/><text class="bt" transform="translate(107 1636) scale(.78 1)">83</text><circle class="b" cx="135" cy="1630"/><text class="bt" transform="translate(135 1636) scale(.78 1)">84</text></g>
<g id="n81-84r"><use href="#taillight" transform="translate(1002 0) scale(-1 1)"/><path class="ld" d="M868 1618L873 1601M897 1618V1601M925 1618L923 1601M952 1618L948 1601"/><circle class="b" cx="867" cy="1630"/><text class="bt" transform="translate(867 1636) scale(.78 1)">84</text><circle class="b" cx="897" cy="1630"/><text class="bt" transform="translate(897 1636) scale(.78 1)">83</text><circle class="b" cx="926" cy="1630"/><text class="bt" transform="translate(926 1636) scale(.78 1)">82</text><circle class="b" cx="953" cy="1630"/><text class="bt" transform="translate(953 1636) scale(.78 1)">81</text></g>
<g id="n85"><use href="#fog"/><use href="#fog" transform="translate(1004 0) scale(-1 1)"/><path class="ld" d="M490 1624L470 1610M508 1624L531 1610"/><circle class="b" cx="499" cy="1632"/><text class="bt" transform="translate(499 1638) scale(.78 1)">85</text></g>

<g id="connectors">
<path class="wy" d="M58 30V662H101V1482H741V1470L735 1464"/><path class="wk" d="M58 30V662H101V1482H741V1470L735 1464"/>
<path class="wy" d="M36 91H40V156H54V143"/><path class="wk" d="M36 91H40V156H54V143"/>
<path class="wy" d="M62 143V174.5H287L291 180L297 174.5H384V326H710L722 319"/><path class="wk" d="M62 143V174.5H287L291 180L297 174.5H384V326H710L722 319"/>
<path class="wy" d="M313 432V581H108V912L101 922"/><path class="wk" d="M313 432V581H108V912L101 922"/>
<path class="wy" d="M322 432V641H496V764H517V777L524 782"/><path class="wk" d="M322 432V641H496V764H517V777L524 782"/>
<path class="wy" d="M253 922L261 912V821H459V917L457 922"/><path class="wk" d="M253 922L261 912V821H459V917L457 922"/>
<path class="wy" d="M386 922L387 799H519V922"/><path class="wk" d="M386 922L387 799H519V922"/>
<path class="wy" d="M386 922L394 915V829H452V915L457 922"/><path class="wk" d="M386 922L394 915V829H452V915L457 922"/>
<path class="wy" d="M253 922V935M253 952V970M385 922V932M385 942V962M459 938V970M518 922V930M518 939V971"/><path class="wk" d="M253 922V935M253 952V970M385 922V932M385 942V962M459 938V970M518 922V930M518 939V971"/>
<path class="wy" d="M706 977V900H835V757H931V1086H725V1177"/><path class="wk" d="M706 977V900H835V757H931V1086H725V1177"/>
<path class="wy" d="M687 1292V1312H772"/><path class="wk" d="M687 1292V1312H772"/>
<path class="wy" d="M537 1223H408M400 1223H349V1262H366"/><path class="wk" d="M537 1223H408M400 1223H349V1262H366"/>
<path class="wy" d="M736 1464H748V1529H437.5V1598H441"/><path class="wk" d="M736 1464H748V1529H437.5V1598H441"/>
<path class="wy" d="M898 1533V1513H430V1598H441"/><path class="wk" d="M898 1533V1513H430V1598H441"/>
<path class="wy" d="M898 1533L907 1510V1449H973"/><path class="wk" d="M898 1533L907 1510V1449H973"/>
</g>
</svg>
